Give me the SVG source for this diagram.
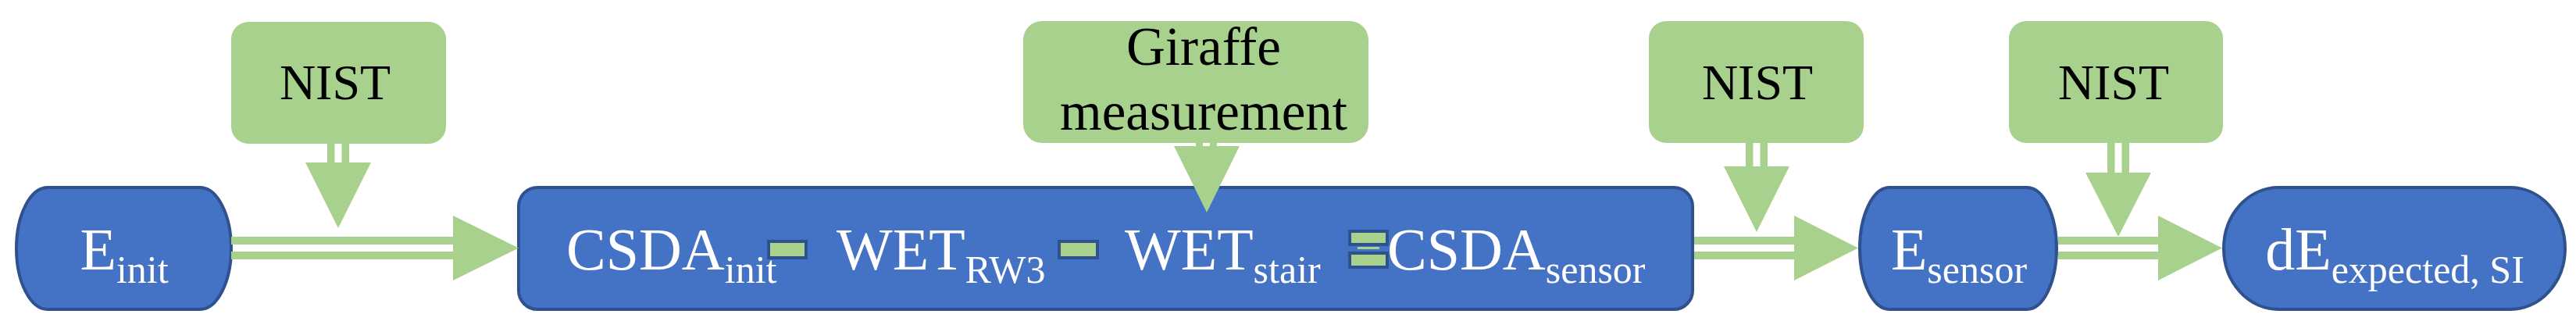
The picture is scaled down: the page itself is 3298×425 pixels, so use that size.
<svg xmlns="http://www.w3.org/2000/svg" width="3298" height="425" viewBox="0 0 3298 425">
<style>
.blue{fill:#4472C4;stroke:#2F528F;stroke-width:4}
.green{fill:#A9D18E}
.op{fill:#A9D18E;stroke:#2F528F;stroke-width:4}
.wt{font-family:"Liberation Serif","Times New Roman",serif;font-size:76px;fill:#FFFFFF}
.bt{font-family:"Liberation Serif","Times New Roman",serif;fill:#000000}
.opt{font-family:"Liberation Serif","Times New Roman",serif;font-size:60px;fill:#A9D18E}
.sub{font-size:50px}
.conn{fill:#A9D18E}
</style>
<rect width="3298" height="425" fill="#FFFFFF"/>
<g id="node-einit">
<rect class="blue" x="21" y="240" width="275" height="156" rx="40" ry="78"/>
<text class="wt" x="159" y="345" text-anchor="middle">E<tspan class="sub" dy="17">init</tspan></text>
</g>
<g id="node-nist1">
<rect class="green" x="296" y="28" width="275" height="156" rx="22"/>
<text class="bt" x="429" y="127" font-size="64" text-anchor="middle">NIST</text>
</g>
<g id="node-csda">
<rect class="blue" x="664" y="240" width="1503" height="156" rx="24"/>
<text class="wt" x="725" y="345">CSDA<tspan class="sub" dy="17">init</tspan></text>
<rect class="op" x="984" y="309" width="48" height="21"/>
<text class="opt" x="1008" y="338" text-anchor="middle">−</text>
<text class="wt" x="1071" y="345">WET<tspan class="sub" dy="17">RW3</tspan></text>
<rect class="op" x="1356" y="309" width="49" height="21"/>
<text class="opt" x="1380" y="338" text-anchor="middle">−</text>
<text class="wt" x="1440" y="345">WET<tspan class="sub" dy="17">stair</tspan></text>
<rect class="op" x="1728" y="296" width="48" height="17"/>
<rect class="op" x="1728" y="324" width="48" height="18"/>
<text class="opt" x="1752" y="343" text-anchor="middle">=</text>
<text class="wt" x="1776" y="345">CSDA<tspan class="sub" dy="17">sensor</tspan></text>
</g>
<g id="node-giraffe">
<rect class="green" x="1310" y="27" width="442" height="156" rx="24"/>
<text class="bt" font-size="69" text-anchor="middle"><tspan x="1541" y="83">Giraffe</tspan><tspan x="1541" y="166">measurement</tspan></text>
</g>
<g id="node-nist2">
<rect class="green" x="2111" y="27" width="275" height="156" rx="22"/>
<text class="bt" x="2250" y="127" font-size="64" text-anchor="middle">NIST</text>
</g>
<g id="node-esensor">
<rect class="blue" x="2381" y="240" width="252" height="156" rx="38" ry="78"/>
<text class="wt" x="2508" y="345" text-anchor="middle">E<tspan class="sub" dy="17">sensor</tspan></text>
</g>
<g id="node-nist3">
<rect class="green" x="2572" y="27" width="274" height="156" rx="22"/>
<text class="bt" x="2706" y="127" font-size="64" text-anchor="middle">NIST</text>
</g>
<g id="node-de">
<rect class="blue" x="2847" y="240" width="437" height="156" rx="70" ry="78"/>
<text class="wt" x="3066" y="345" text-anchor="middle">dE<tspan class="sub" dy="17">expected, SI</tspan></text>
</g>
<g id="connectors" class="conn">
<path d="M296,303H580V313H296Z M296,322H580V332H296Z M580,276L664,317.5L580,359Z"/>
<path d="M419,184H428.5V208H419Z M437.5,184H447V208H437.5Z M391,208H475L433,292Z"/>
<path d="M1531,183H1540V187H1531Z M1549,183H1558V187H1549Z M1503,187H1587L1545,272Z"/>
<path d="M2169,303H2297V313H2169Z M2169,322H2297V332H2169Z M2297,276L2379,317.5L2297,359Z"/>
<path d="M2235,183H2244.5V213H2235Z M2253.5,183H2263V213H2253.5Z M2207,213H2291L2249,297Z"/>
<path d="M2635,303H2763V313H2635Z M2635,322H2763V332H2635Z M2763,276L2845,317.5L2763,359Z"/>
<path d="M2698,183H2707.5V221H2698Z M2716.5,183H2726V221H2716.5Z M2670,221H2754L2712,303Z"/>
</g>
</svg>
